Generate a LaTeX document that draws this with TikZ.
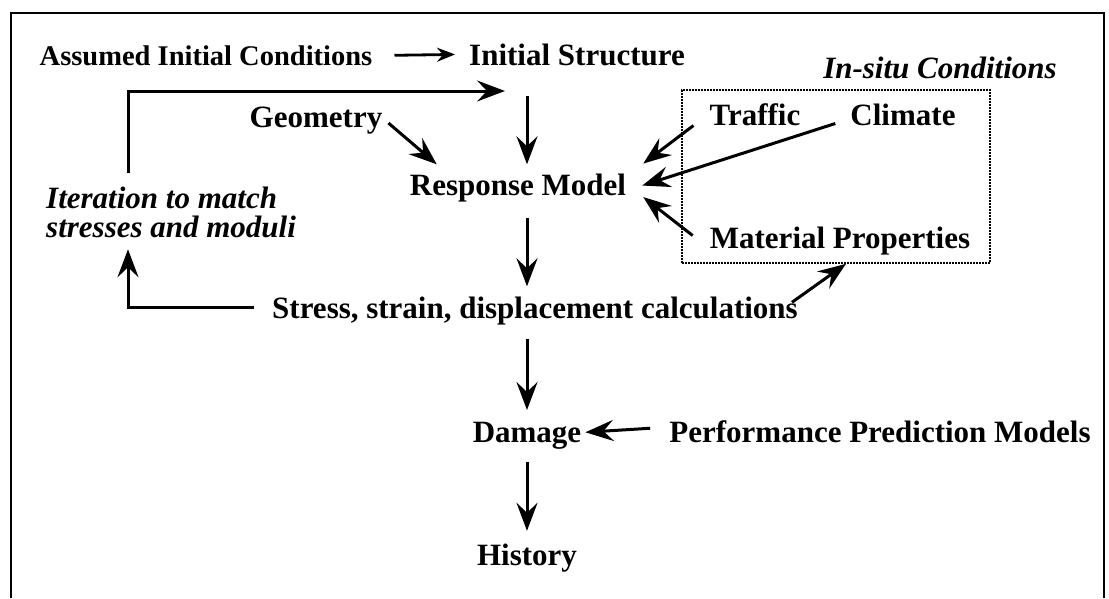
\documentclass[tikz,border=0pt]{standalone}
\usepackage{fontspec}
\setmainfont{Liberation Serif}
\usetikzlibrary{arrows.meta,calc}
\tikzset{
  lbl/.style={inner sep=0pt, anchor=base, font=\fontsize{31}{29}\selectfont\bfseries},
  smalllbl/.style={lbl, font=\fontsize{28.5}{29}\selectfont\bfseries},
  ital/.style={lbl, font=\fontsize{31}{29}\selectfont\bfseries\itshape},
  arr/.style={line width=3pt, -{Stealth[length=28pt,width=21pt,inset=10pt]}},
  smallarr/.style={line width=2.8pt, -{Stealth[length=18pt,width=14pt,inset=6pt]}},
  loopline/.style={line width=3pt},
  frame/.style={line width=2.8pt},
  dotbox/.style={draw, line width=1.6pt, dash pattern=on 1.6pt off 1.4pt, inner sep=0pt}
}
\begin{document}
\begin{tikzpicture}[x=1pt,y=-1pt]
\useasboundingbox[fill=white] (0,0) rectangle (1109,598);
% outer frame
\draw[frame] (11,598) -- (11,13) -- (1104,13) -- (1104,598);

% nodes
\node[smalllbl] (aic) at (206,65) {Assumed Initial Conditions};
\node[lbl] (is) at (577,65) {Initial Structure};
\node[ital] (insitu) at (940,78) {In-situ Conditions};
\node[dotbox, minimum width=308pt, minimum height=173pt] (box) at (836,176.5) {};
\node[lbl] (geo) at (316,127) {Geometry};
\node[lbl] (traffic) at (755,125) {Traffic};
\node[lbl] (climate) at (903,125) {Climate};
\node[lbl] (rm) at (518,195) {Response Model};
\node[ital, anchor=north west, align=left] (iter) at (46,187) {Iteration to match\\stresses and moduli};
\node[lbl] (mp) at (840,248) {Material Properties};
\node[lbl] (stress) at (535,318) {Stress, strain, displacement calculations};
\node[lbl] (dmg) at (527,442) {Damage};
\node[lbl] (perf) at (880,442) {Performance Prediction Models};
\node[lbl] (hist) at (527,565) {History};
\coordinate (lx) at (128,0);
\coordinate (fb) at (505,91);

% connectors
\draw[smallarr] ($(aic.east)+(22,0)$) -- ($(is.west)+(-14,0)$);
\draw[arr] ($(is.south -| hist.north)+(0,30)$) -- ($(rm.north -| hist.north)+(0,-9)$);
\draw[arr] ($(rm.south -| hist.north)+(0,16)$) -- ($(stress.north -| hist.north)+(0,-10)$);
\draw[arr] ($(stress.south -| hist.north)+(0,14)$) -- ($(dmg.north)+(0,-11.5)$);
\draw[arr] ($(dmg.south)+(0,13)$) -- ($(hist.north)+(0,-12.5)$);
\draw[arr] ($(perf.west)+(-19,-3)$) -- ($(dmg.east)+(4,-3)$);

\draw[arr] ($(geo.east)+(6,3)$) -- ($(rm.north west)+(27,-9)$);
\draw[arr] ($(traffic.south west)+(-16,0)$) -- ($(rm.east)+(17,-24)$);
\draw[arr] ($(climate.south west)+(-15,-2)$) -- ($(rm.east)+(16,-2)$);
\draw[arr] ($(mp.west)+(-17,-5)$) -- ($(rm.east)+(17,9.5)$);
\draw[arr] ($(stress.north east)+(-6,6)$) -- ($(box.south)+(10,0)$);

% iteration loop
\draw[arr] ($(stress.west)+(-18,-3)$) -| ($(iter.south -| lx)+(0,11)$);
\draw[arr] ($(iter.north -| lx)+(0,-14)$) |- (fb);
\end{tikzpicture}
\end{document}
